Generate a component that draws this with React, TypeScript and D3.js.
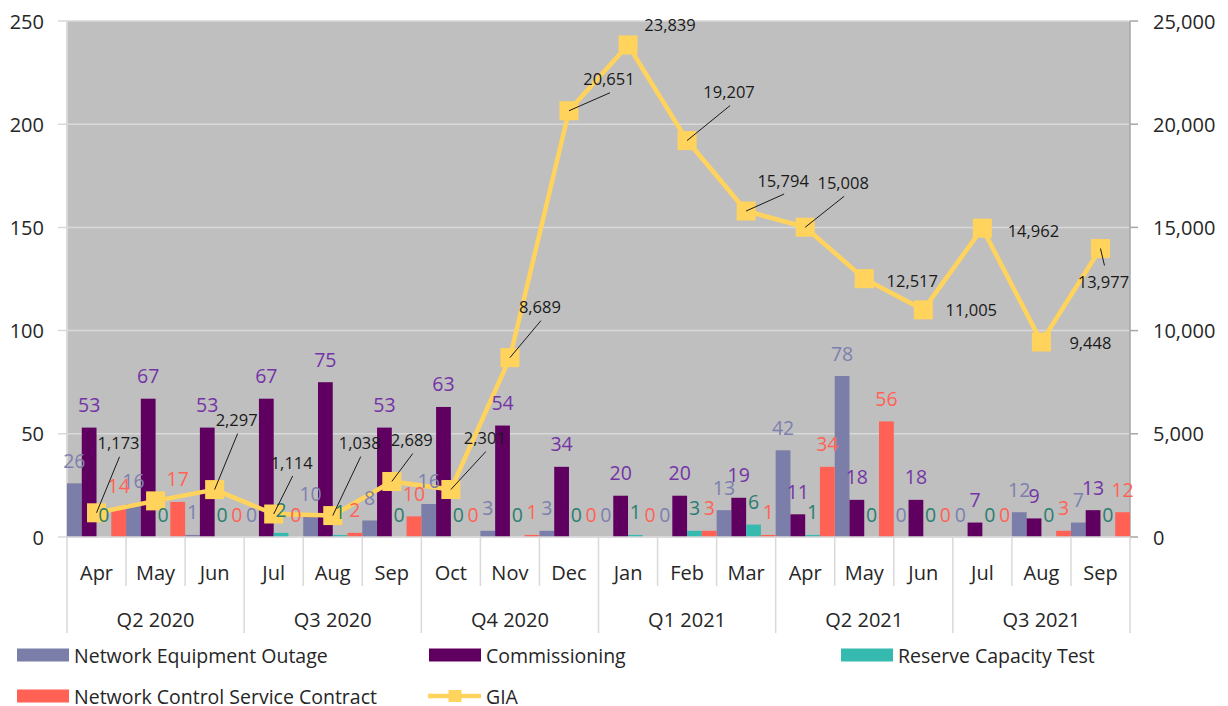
import React from "react";
import * as d3 from "d3";

const months = ["Apr","May","Jun","Jul","Aug","Sep","Oct","Nov","Dec","Jan","Feb","Mar","Apr","May","Jun","Jul","Aug","Sep"];
const quarters = ["Q2 2020","Q3 2020","Q4 2020","Q1 2021","Q2 2021","Q3 2021"];
const networkEquipmentOutage = [26,16,1,0,10,8,16,3,3,0,0,13,42,78,0,0,12,7];
const commissioning = [53,67,53,67,75,53,63,54,34,20,20,19,11,18,18,7,9,13];
const reserveCapacityTest = [0,0,0,2,1,0,0,0,0,1,3,6,1,0,0,0,0,0];
const networkControlServiceContract = [14,17,0,0,2,10,0,1,0,0,3,1,34,56,0,0,3,12];
const gia = [1173,1750,2297,1114,1038,2689,2301,8689,20651,23839,19207,15794,15008,12517,11005,14962,9448,13977];
const giaLabelShown = [true,false,true,true,true,true,true,true,true,true,true,true,true,true,true,true,true,true];
const leftTicks = [0,50,100,150,200,250];
const rightTicks = [0,5000,10000,15000,20000,25000];

// label placement (layout only): offset of label centre from marker, and whether a leader line is drawn
const giaLabelOffsets: [number, number, boolean][] = [
  [22,-70,true],[0,0,false],[22,-70,true],[18,-52,true],[27,-73,true],[20,-42,true],[34,-52,true],
  [30,-51,true],[40,-32,true],[42,-20,false],[42,-49,true],[37,-31,true],[38,-45,true],
  [48,2,false],[48,0,false],[51,2,false],[49,1,false],[3,33,true],
];

const series = [
  { name: "Network Equipment Outage", values: networkEquipmentOutage, color: "#7a7ea8", label: "#7d80ae" },
  { name: "Commissioning", values: commissioning, color: "#5f0060", label: "#7434a6" },
  { name: "Reserve Capacity Test", values: reserveCapacityTest, color: "#36b9ae", label: "#2b7e6f" },
  { name: "Network Control Service Contract", values: networkControlServiceContract, color: "#ff6155", label: "#ff6355" },
];

const W = 1228, H = 706;
const L = 67, R = 1130, T = 21, B = 537;
const FONT = "'Open Sans', 'Noto Sans', sans-serif";
const GIA_COLOR = "#ffd35c";
const fmt = d3.format(",");

export default function App() {
  const idx = months.map((_, i) => i);
  const x = d3.scaleBand<number>().domain(idx).range([L, R]).paddingInner(0).paddingOuter(0);
  const xs = d3.scaleBand<number>().domain([0,1,2,3]).range([0, x.bandwidth()]).padding(0);
  const yL = d3.scaleLinear().domain([0, 250]).range([B, T]);
  const yR = d3.scaleLinear().domain([0, 25000]).range([B, T]);
  const line = d3.line<number>().x((_, i) => x(i)! + x.bandwidth() / 2).y((d) => yR(d));
  const bw = x.bandwidth();

  return (
    <svg width={W} height={H} style={{ position: "absolute", left: 0, top: 0, background: "#fff" }} fontFamily={FONT}>
      <rect x={L} y={T} width={R - L} height={B - T} fill="#bfbfbf" />
      {leftTicks.map((t) => (
        <g key={"g" + t}>
          <line x1={58} x2={R} y1={yL(t)} y2={yL(t)} stroke="#d9d9d9" strokeWidth={1.5} />
          <text x={44} y={yL(t)} textAnchor="end" dominantBaseline="central" fontSize={20} fill="#262626">{t}</text>
        </g>
      ))}
      <line x1={L} x2={L} y1={T} y2={B} stroke="#d9d9d9" strokeWidth={2} />
      {/* right axis */}
      <line x1={R} x2={R} y1={T} y2={B} stroke="#a6a6a6" strokeWidth={1.5} />
      {rightTicks.map((t) => (
        <g key={"r" + t}>
          <line x1={R} x2={R + 8} y1={yR(t)} y2={yR(t)} stroke="#a6a6a6" strokeWidth={1.5} />
          <text x={1153} y={yR(t)} dominantBaseline="central" fontSize={20} fill="#262626">{fmt(t)}</text>
        </g>
      ))}
      {/* category axis */}
      {months.map((m, i) => (
        <g key={"m" + i}>
          <line x1={x(i)!} x2={x(i)!} y1={B} y2={i % 3 === 0 ? 633 : 586} stroke="#d9d9d9" strokeWidth={1.5} />
          <text x={x(i)! + bw / 2} y={572} textAnchor="middle" dominantBaseline="central" fontSize={20} fill="#262626">{m}</text>
        </g>
      ))}
      <line x1={R} x2={R} y1={B} y2={633} stroke="#d9d9d9" strokeWidth={1.5} />
      {quarters.map((q, qi) => (
        <text key={q} x={(x(qi * 3)! + x(qi * 3 + 2)! + bw) / 2} y={619} textAnchor="middle" dominantBaseline="central" fontSize={20} fill="#262626">{q}</text>
      ))}
      {/* bars */}
      {series.map((s, si) => s.values.map((v, i) => (
        <rect key={s.name + i} x={x(i)! + xs(si)!} y={yL(v)} width={xs.bandwidth()} height={B - yL(v)} fill={s.color} />
      )))}
      <line x1={L} x2={R} y1={B} y2={B} stroke="#d9d9d9" strokeWidth={1.5} />
      {/* GIA line */}
      <path d={line(gia)!} fill="none" stroke={GIA_COLOR} strokeWidth={4.5} strokeLinejoin="round" />
      {gia.map((v, i) => (
        <rect key={"gm" + i} x={x(i)! + bw / 2 - 9.5} y={yR(v) - 9.5} width={19} height={19} fill={GIA_COLOR} />
      ))}
      {/* bar labels */}
      {series.map((s, si) => s.values.map((v, i) => (
        <text key={"bl" + s.name + i} x={x(i)! + xs(si)! + xs.bandwidth() / 2} y={yL(v) - 23} textAnchor="middle" dominantBaseline="central" fontSize={19.5} fill={s.label}>{v}</text>
      )))}
      {/* GIA labels */}
      {gia.map((v, i) => {
        if (!giaLabelShown[i]) return null;
        const px = x(i)! + bw / 2, py = yR(v);
        const [dx, dy, leader] = giaLabelOffsets[i];
        const lx = px + dx, ly = py + dy;
        const ey = dy < 0 ? ly + 14 : ly - 16;
        return (
          <g key={"gl" + i}>
            {leader && <line x1={px} y1={py} x2={lx + 1} y2={ey} stroke="#1a1a1a" strokeWidth={1} />}
            <text x={lx} y={ly} textAnchor="middle" dominantBaseline="central" fontSize={16.5} fill="#1a1a1a">{fmt(v)}</text>
          </g>
        );
      })}
      {/* legend */}
      {[
        { s: series[0], x: 17, y: 655 },
        { s: series[1], x: 429, y: 655 },
        { s: series[2], x: 841, y: 655 },
        { s: series[3], x: 17, y: 696 },
      ].map(({ s, x: lx, y: ly }) => (
        <g key={"lg" + s.name}>
          <rect x={lx} y={ly - 6.5} width={52} height={13} fill={s.color} />
          <text x={lx + 57} y={ly} dominantBaseline="central" fontSize={19.5} fill="#262626">{s.name}</text>
        </g>
      ))}
      <g>
        <line x1={428} x2={481} y1={696} y2={696} stroke={GIA_COLOR} strokeWidth={4.5} />
        <rect x={448.5} y={690} width={13} height={12} fill={GIA_COLOR} />
        <text x={486} y={696} dominantBaseline="central" fontSize={19.5} fill="#262626">GIA</text>
      </g>
    </svg>
  );
}
